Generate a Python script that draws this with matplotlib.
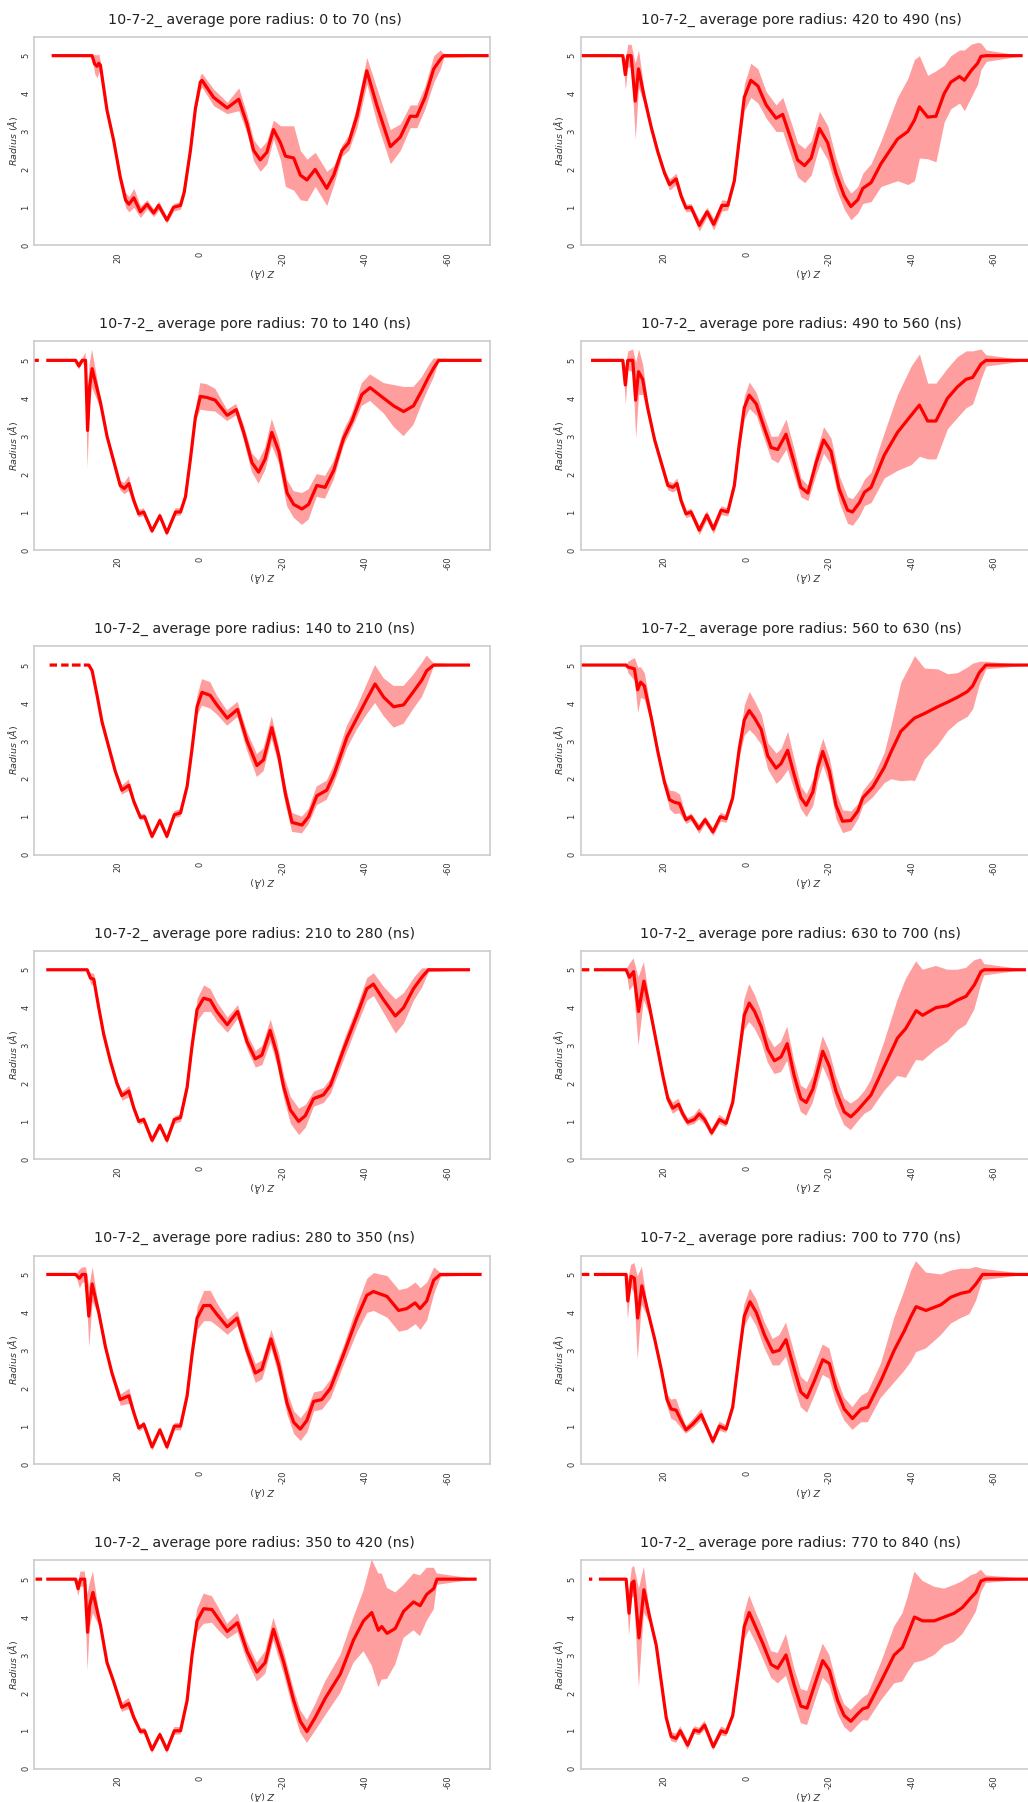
import numpy as np
import matplotlib
matplotlib.use("Agg")
import matplotlib.pyplot as plt

plt.rcParams["axes.unicode_minus"] = False
nan = float("nan")

# (z [Å], mean radius [Å], std [Å])
P_0_70 = [(36.0,5,0),(26.2,5,0),(25.6,4.78,0.25),(25.0,4.72,0.3),(24.6,4.8,0.25),(24.2,4.75,0.1),(22.6,3.56,0.06),(21.0,2.77,0.06),(19.4,1.8,0.1),(18.1,1.19,0.2),(17.3,1.08,0.2),(16.1,1.25,0.25),(14.5,0.88,0.15),(12.9,1.08,0.12),(11.3,0.85,0.1),(10.1,1.05,0.12),(8.1,0.66,0.08),(6.5,1.0,0.1),(4.8,1.05,0.1),(3.9,1.4,0.08),(2.4,2.5,0.08),(1.2,3.6,0.1),(0,4.3,0.2),(-0.4,4.35,0.18),(-3.2,3.9,0.22),(-6.5,3.62,0.15),(-9.3,3.85,0.3),(-11.3,3.2,0.25),(-12.9,2.5,0.28),(-14.5,2.25,0.3),(-16.1,2.45,0.3),(-17.7,3.05,0.25),(-19.4,2.7,0.45),(-20.6,2.35,0.8),(-22.6,2.3,0.85),(-24.2,1.85,0.65),(-25.8,1.72,0.55),(-27.8,2.0,0.45),(-30.6,1.5,0.45),(-32.3,1.85,0.25),(-34.3,2.5,0.15),(-35.9,2.7,0.2),(-37.9,3.4,0.3),(-40.3,4.6,0.35),(-42.7,3.7,0.45),(-46.0,2.6,0.45),(-48.4,2.85,0.35),(-50.8,3.4,0.3),(-52.4,3.4,0.3),(-54.4,3.9,0.3),(-56.5,4.65,0.35),(-58.1,4.9,0.25),(-58.9,5.0,0.05),(-69.8,5,0)]

P_70_140 = [(40.3,5,0),(39.1,5,0),(38.2,nan,0),(37.3,5,0),(30.2,5,0),(29.4,4.85,0.1),(28.6,5,0.05),(27.8,5,0.2),(27.3,3.15,1.0),(26.8,4.3,0.6),(26.2,4.78,0.5),(24.2,3.9,0.15),(22.6,3.0,0.1),(21.0,2.35,0.1),(19.4,1.7,0.12),(18.4,1.62,0.15),(17.3,1.75,0.2),(16.1,1.3,0.12),(14.9,0.95,0.1),(13.7,1.0,0.1),(11.7,0.5,0.08),(9.8,0.9,0.08),(8.1,0.45,0.08),(6.0,1.0,0.1),(4.8,1.0,0.1),(3.6,1.4,0.08),(2.4,2.4,0.08),(1.2,3.5,0.15),(0,4.05,0.35),(-1.6,4.02,0.35),(-3.6,3.95,0.3),(-6.5,3.55,0.15),(-8.7,3.7,0.15),(-10.5,3.1,0.2),(-12.5,2.3,0.25),(-14.1,2.05,0.3),(-15.7,2.4,0.3),(-17.3,3.1,0.35),(-19.0,2.6,0.3),(-21.0,1.5,0.35),(-22.6,1.2,0.35),(-24.6,1.08,0.42),(-26.2,1.2,0.4),(-28.2,1.7,0.3),(-30.2,1.65,0.3),(-32.3,2.1,0.25),(-34.7,2.95,0.2),(-36.7,3.4,0.2),(-39.1,4.1,0.3),(-41.1,4.28,0.35),(-44.4,4.0,0.4),(-46.8,3.8,0.55),(-49.2,3.65,0.65),(-51.6,3.8,0.5),(-53.6,4.2,0.35),(-55.2,4.55,0.3),(-56.5,4.8,0.25),(-57.7,5.0,0.05),(-68.1,5,0)]

P_140_210 = [(36.5,5,0),(34.7,5,0),(34.2,nan,0),(33.7,5,0),(31.9,5,0),(31.5,nan,0),(31.1,5,0),(29.0,5,0),(28.6,nan,0),(28.2,5,0),(27.0,5,0),(26.2,4.85,0.05),(25.0,4.2,0.05),(23.8,3.5,0.05),(22.2,2.85,0.06),(20.6,2.2,0.08),(19.0,1.7,0.12),(17.3,1.83,0.15),(16.1,1.4,0.1),(14.5,0.98,0.08),(13.5,1.0,0.08),(11.7,0.48,0.08),(9.8,0.9,0.08),(8.1,0.48,0.08),(6.3,1.05,0.1),(4.8,1.1,0.1),(3.2,1.8,0.1),(2.0,2.8,0.12),(0.8,3.9,0.25),(-0.4,4.28,0.35),(-2.4,4.2,0.35),(-4.0,3.95,0.25),(-6.5,3.6,0.2),(-9.0,3.83,0.2),(-11.3,3.0,0.25),(-13.7,2.35,0.3),(-15.3,2.5,0.3),(-17.3,3.35,0.3),(-19.0,2.6,0.25),(-20.6,1.6,0.25),(-22.2,0.85,0.25),(-24.6,0.78,0.22),(-26.2,1.0,0.2),(-28.2,1.55,0.25),(-30.6,1.7,0.25),(-32.3,2.1,0.25),(-35.5,3.1,0.3),(-37.9,3.6,0.3),(-40.3,4.1,0.4),(-42.3,4.5,0.5),(-44.4,4.15,0.5),(-46.8,3.9,0.55),(-49.2,3.95,0.5),(-51.6,4.3,0.45),(-53.6,4.6,0.45),(-54.8,4.85,0.4),(-56.5,5.0,0.05),(-65.3,5,0)]

P_210_280 = [(37.3,5,0),(27.4,5,0),(26.6,4.78,0.15),(25.8,4.75,0.15),(24.6,4.0,0.05),(23.4,3.3,0.05),(21.8,2.6,0.05),(20.2,2.0,0.08),(19.0,1.68,0.12),(17.3,1.8,0.15),(16.1,1.35,0.1),(14.9,1.0,0.08),(13.7,1.05,0.08),(11.7,0.5,0.08),(9.8,0.9,0.08),(8.1,0.5,0.08),(6.3,1.05,0.1),(4.8,1.1,0.1),(3.2,1.9,0.1),(2.0,3.0,0.12),(0.8,3.95,0.3),(-0.8,4.25,0.35),(-2.4,4.2,0.3),(-4.0,3.9,0.25),(-6.5,3.55,0.2),(-9.0,3.9,0.18),(-11.3,3.1,0.2),(-13.3,2.65,0.22),(-14.9,2.75,0.25),(-16.9,3.4,0.3),(-18.5,2.8,0.3),(-20.2,1.9,0.3),(-21.8,1.3,0.35),(-23.8,1.0,0.35),(-25.4,1.15,0.3),(-27.4,1.6,0.2),(-29.8,1.7,0.2),(-31.5,1.95,0.2),(-34.7,2.9,0.25),(-37.9,3.8,0.25),(-40.3,4.5,0.3),(-41.9,4.62,0.3),(-44.4,4.2,0.35),(-47.2,3.78,0.45),(-49.2,4.0,0.4),(-51.6,4.5,0.3),(-53.6,4.8,0.25),(-55.2,5.0,0.05),(-65.3,5,0)]

P_280_350 = [(37.3,5,0),(30.2,5,0),(29.3,4.9,0.25),(28.6,5,0.2),(27.8,5,0.2),(27.0,3.9,0.8),(26.2,4.75,0.45),(24.6,4.0,0.1),(23.0,3.1,0.08),(21.4,2.4,0.08),(19.4,1.7,0.15),(17.3,1.8,0.2),(16.1,1.35,0.1),(14.9,0.95,0.08),(13.7,1.05,0.08),(11.7,0.45,0.08),(9.8,0.9,0.08),(8.1,0.45,0.08),(6.3,1.0,0.1),(4.8,1.0,0.1),(3.2,1.8,0.1),(2.0,2.9,0.12),(0.8,3.85,0.3),(-0.8,4.18,0.4),(-2.4,4.18,0.4),(-4.0,3.95,0.3),(-6.5,3.62,0.2),(-8.9,3.85,0.2),(-11.3,3.0,0.22),(-13.3,2.4,0.25),(-14.9,2.5,0.25),(-17.1,3.3,0.25),(-19.0,2.6,0.3),(-21.0,1.6,0.3),(-22.6,1.1,0.3),(-24.2,0.92,0.3),(-25.8,1.15,0.3),(-27.4,1.65,0.25),(-29.4,1.7,0.25),(-31.5,2.0,0.25),(-34.7,2.9,0.25),(-37.9,3.85,0.35),(-40.3,4.45,0.45),(-41.9,4.55,0.5),(-45.2,4.42,0.55),(-48.0,4.05,0.55),(-50.0,4.1,0.55),(-52.0,4.25,0.55),(-53.2,4.1,0.55),(-54.8,4.3,0.5),(-56.5,4.85,0.35),(-58.1,5.0,0.05),(-68.1,5,0)]

P_350_420 = [(39.9,5,0),(38.3,5,0),(37.8,nan,0),(37.3,5,0),(30.2,5,0),(29.6,4.75,0.2),(29.0,5,0.2),(28.0,5,0.2),(27.3,3.6,1.0),(26.8,4.3,0.6),(26.0,4.65,0.55),(24.2,3.8,0.1),(22.6,2.8,0.08),(21.0,2.3,0.08),(19.0,1.62,0.12),(17.3,1.72,0.15),(16.1,1.35,0.1),(14.5,0.98,0.08),(13.5,1.0,0.08),(11.7,0.5,0.1),(9.8,0.9,0.08),(8.1,0.5,0.1),(6.3,1.0,0.1),(4.8,1.0,0.1),(3.2,1.8,0.1),(2.0,3.0,0.12),(0.8,3.9,0.3),(-0.8,4.22,0.4),(-2.8,4.2,0.35),(-4.4,3.95,0.3),(-6.5,3.62,0.2),(-9.0,3.85,0.25),(-11.3,3.1,0.25),(-13.7,2.55,0.25),(-15.7,2.8,0.3),(-17.7,3.68,0.3),(-20.2,2.8,0.3),(-22.6,1.8,0.3),(-24.2,1.25,0.3),(-25.8,0.98,0.3),(-27.8,1.35,0.35),(-30.2,1.85,0.45),(-33.9,2.5,0.5),(-37.1,3.4,0.6),(-39.5,3.9,0.8),(-41.5,4.12,1.4),(-43.1,3.65,1.5),(-43.9,3.75,1.4),(-45.2,3.57,1.2),(-47.2,3.7,0.95),(-49.2,4.15,0.7),(-51.6,4.4,0.75),(-53.2,4.3,0.8),(-54.8,4.6,0.7),(-56.5,4.75,0.55),(-57.3,5.0,0.15),(-66.9,5,0)]

P_420_490 = [(40.1,5,0),(30.0,5,0),(29.4,4.5,0.4),(28.8,5,0.3),(28.0,5,0.3),(27.0,3.8,1.0),(26.2,4.65,0.5),(24.8,3.9,0.15),(23.1,3.1,0.1),(21.5,2.45,0.1),(19.9,1.9,0.1),(18.7,1.6,0.15),(17.1,1.75,0.15),(15.9,1.3,0.12),(14.7,0.98,0.1),(13.5,1.0,0.1),(11.5,0.52,0.15),(9.6,0.88,0.12),(8.0,0.55,0.15),(6.0,1.05,0.15),(4.6,1.05,0.12),(3.0,1.7,0.1),(1.8,2.8,0.15),(0.6,3.9,0.35),(-1.0,4.35,0.45),(-2.7,4.2,0.45),(-4.7,3.7,0.35),(-7.1,3.35,0.35),(-8.7,3.45,0.45),(-10.7,2.8,0.45),(-12.3,2.25,0.45),(-14.0,2.1,0.45),(-15.6,2.3,0.45),(-17.6,3.08,0.45),(-19.6,2.7,0.45),(-21.6,1.9,0.4),(-23.6,1.3,0.35),(-25.2,1.02,0.35),(-26.9,1.2,0.35),(-28.1,1.5,0.4),(-30.1,1.65,0.5),(-32.5,2.15,0.6),(-36.5,2.8,1.1),(-39.0,3.0,1.4),(-40.6,3.3,1.6),(-41.8,3.65,1.35),(-43.8,3.38,1.1),(-45.8,3.4,1.2),(-47.8,4.0,0.75),(-49.4,4.3,0.7),(-51.5,4.45,0.7),(-52.7,4.35,0.8),(-54.3,4.6,0.7),(-55.9,4.8,0.55),(-56.7,4.98,0.35),(-58.0,5.0,0.15),(-66.8,5,0)]

P_490_560 = [(37.7,5,0),(30.0,5,0),(29.4,4.35,0.5),(28.8,5,0.25),(27.6,5,0.3),(26.9,3.95,1.0),(26.2,4.7,0.6),(25.2,4.5,0.4),(24.0,3.75,0.15),(22.3,2.9,0.1),(20.7,2.3,0.1),(19.1,1.7,0.12),(17.9,1.65,0.12),(16.9,1.75,0.15),(15.9,1.3,0.12),(14.7,0.95,0.1),(13.5,1.0,0.1),(11.5,0.52,0.12),(9.7,0.92,0.12),(8.1,0.55,0.12),(6.2,1.05,0.12),(4.6,1.0,0.1),(3.0,1.7,0.1),(1.8,2.8,0.15),(0.6,3.75,0.3),(-0.6,4.08,0.35),(-2.3,3.85,0.3),(-4.3,3.2,0.3),(-5.9,2.7,0.3),(-7.5,2.65,0.35),(-9.5,3.05,0.4),(-11.5,2.3,0.35),(-13.1,1.65,0.25),(-14.8,1.5,0.2),(-16.8,2.3,0.3),(-18.6,2.9,0.35),(-20.4,2.6,0.35),(-22.4,1.6,0.35),(-24.4,1.05,0.35),(-25.6,1.0,0.35),(-27.3,1.25,0.35),(-28.5,1.52,0.35),(-30.1,1.65,0.4),(-33.3,2.5,0.6),(-36.5,3.1,1.0),(-39.8,3.55,1.3),(-41.8,3.82,1.35),(-43.8,3.4,1.0),(-45.8,3.4,1.0),(-48.6,4.0,0.8),(-51.0,4.3,0.8),(-53.1,4.5,0.75),(-54.7,4.55,0.7),(-56.7,4.9,0.4),(-57.9,5.0,0.15),(-68.1,5,0)]

P_560_630 = [(40.1,5,0),(29.2,5,0),(28.8,4.95,0.15),(27.2,4.9,0.3),(26.4,4.35,0.6),(25.7,4.55,0.4),(24.8,4.45,0.35),(23.1,3.6,0.15),(21.5,2.7,0.12),(19.9,1.9,0.12),(18.7,1.45,0.25),(17.5,1.38,0.3),(16.3,1.35,0.25),(14.7,0.92,0.1),(13.5,1.0,0.1),(11.6,0.68,0.12),(10.1,0.92,0.1),(8.2,0.6,0.1),(6.4,1.0,0.12),(5.0,0.95,0.1),(3.4,1.5,0.1),(1.8,2.8,0.2),(0.6,3.55,0.4),(-0.6,3.8,0.5),(-1.9,3.6,0.45),(-3.5,3.3,0.4),(-5.1,2.6,0.35),(-7.1,2.28,0.4),(-8.3,2.4,0.4),(-9.9,2.75,0.5),(-11.5,2.1,0.4),(-13.1,1.5,0.3),(-14.4,1.3,0.3),(-16.0,1.65,0.35),(-17.2,2.3,0.35),(-18.4,2.72,0.35),(-20.0,2.2,0.35),(-21.6,1.3,0.35),(-23.2,0.88,0.3),(-25.2,0.9,0.25),(-26.9,1.15,0.2),(-28.1,1.5,0.2),(-30.5,1.78,0.25),(-33.3,2.3,0.4),(-34.9,2.7,0.7),(-37.3,3.25,1.3),(-39.8,3.52,1.55),(-40.6,3.6,1.65),(-43.0,3.72,1.2),(-46.2,3.9,1.0),(-48.6,4.02,0.75),(-51.0,4.15,0.65),(-53.4,4.3,0.65),(-54.7,4.45,0.6),(-56.3,4.8,0.3),(-57.9,5.0,0.1),(-68.1,5,0)]

P_630_700 = [(40.1,5,0),(38.1,5,0),(37.5,nan,0),(37.0,5,0),(29.2,5,0),(28.4,4.8,0.35),(27.4,4.95,0.35),(26.2,3.9,0.9),(24.9,4.7,0.5),(23.5,4.0,0.2),(21.9,3.1,0.1),(20.3,2.2,0.1),(19.1,1.6,0.12),(17.9,1.35,0.15),(16.5,1.45,0.15),(15.5,1.2,0.12),(14.3,0.98,0.1),(12.7,1.05,0.12),(11.5,1.2,0.15),(10.2,1.05,0.12),(8.5,0.7,0.1),(6.6,1.05,0.12),(5.0,0.95,0.1),(3.4,1.5,0.1),(1.8,2.8,0.2),(0.6,3.8,0.4),(-0.6,4.12,0.5),(-1.9,3.9,0.45),(-3.5,3.5,0.4),(-5.1,2.9,0.35),(-6.7,2.6,0.35),(-8.3,2.7,0.4),(-9.8,3.05,0.45),(-11.5,2.2,0.4),(-13.1,1.6,0.35),(-14.4,1.5,0.35),(-16.0,1.85,0.35),(-18.4,2.85,0.4),(-20.0,2.45,0.4),(-21.6,1.8,0.4),(-23.6,1.25,0.35),(-25.2,1.12,0.35),(-26.9,1.3,0.3),(-28.5,1.5,0.3),(-30.1,1.7,0.4),(-33.3,2.45,0.65),(-36.5,3.2,1.0),(-38.5,3.45,1.3),(-41.0,3.92,1.3),(-42.6,3.8,1.2),(-45.8,4.0,1.1),(-48.6,4.05,0.95),(-51.0,4.2,0.8),(-53.1,4.3,0.75),(-55.1,4.6,0.65),(-56.7,4.95,0.35),(-57.5,5.0,0.15),(-67.6,5,0)]

P_700_770 = [(40.1,5,0),(38.1,5,0),(37.5,nan,0),(37.0,5,0),(29.2,5,0),(28.8,4.3,0.5),(28.0,4.95,0.3),(27.2,4.9,0.4),(26.4,3.85,1.1),(25.4,4.7,0.5),(24.0,4.05,0.15),(22.3,3.3,0.1),(20.7,2.5,0.1),(19.3,1.7,0.15),(18.3,1.45,0.25),(17.1,1.42,0.3),(15.9,1.15,0.2),(14.7,0.9,0.1),(13.1,1.05,0.12),(11.0,1.3,0.15),(9.8,1.0,0.1),(8.2,0.6,0.1),(6.6,1.0,0.12),(5.0,0.92,0.1),(3.4,1.5,0.1),(1.8,2.9,0.2),(0.6,3.9,0.3),(-0.8,4.28,0.35),(-2.3,4.0,0.35),(-4.3,3.4,0.35),(-6.3,2.95,0.35),(-7.9,3.0,0.4),(-9.5,3.28,0.45),(-11.5,2.5,0.45),(-13.1,1.9,0.4),(-14.6,1.75,0.4),(-16.4,2.2,0.4),(-18.4,2.75,0.4),(-20.0,2.65,0.4),(-21.6,2.0,0.35),(-23.6,1.45,0.3),(-25.6,1.2,0.3),(-27.7,1.45,0.35),(-29.3,1.5,0.4),(-32.5,2.2,0.45),(-35.7,3.0,0.85),(-38.1,3.5,1.05),(-39.8,3.9,1.2),(-41.0,4.15,1.2),(-43.4,4.05,1.0),(-47.0,4.2,0.8),(-49.4,4.4,0.7),(-51.8,4.5,0.65),(-53.9,4.55,0.6),(-55.5,4.75,0.45),(-57.1,5.0,0.15),(-68.1,5,0)]

P_770_840 = [(38.2,5,0),(37.4,5,0),(36.8,nan,0),(35.8,5,0),(29.2,5,0),(28.5,4.1,0.6),(27.8,4.9,0.4),(27.3,4.95,0.4),(26.1,3.45,1.3),(24.9,4.72,0.6),(23.5,4.0,0.15),(21.9,3.25,0.1),(20.7,2.3,0.1),(19.5,1.35,0.12),(18.3,0.85,0.12),(17.1,0.8,0.12),(16.1,1.0,0.12),(14.3,0.62,0.12),(12.7,1.02,0.1),(11.5,0.98,0.1),(10.2,1.15,0.12),(8.1,0.58,0.1),(6.2,1.0,0.12),(5.0,0.95,0.1),(3.4,1.4,0.1),(1.8,2.7,0.2),(0.6,3.75,0.35),(-0.6,4.12,0.45),(-2.3,3.7,0.4),(-3.9,3.3,0.4),(-5.9,2.75,0.35),(-7.5,2.65,0.4),(-9.5,3.0,0.55),(-11.5,2.2,0.45),(-13.1,1.65,0.45),(-14.6,1.6,0.45),(-16.4,2.2,0.45),(-18.4,2.85,0.45),(-20.0,2.6,0.4),(-22.0,1.8,0.35),(-23.6,1.4,0.3),(-25.2,1.25,0.3),(-26.9,1.45,0.3),(-28.1,1.58,0.3),(-29.3,1.62,0.35),(-32.5,2.3,0.5),(-35.7,3.0,0.75),(-37.7,3.2,0.9),(-39.0,3.55,1.0),(-40.6,4.0,1.2),(-42.6,3.9,1.05),(-45.4,3.9,0.9),(-47.8,4.0,0.75),(-50.2,4.1,0.75),(-52.2,4.25,0.7),(-54.2,4.5,0.6),(-55.5,4.65,0.5),(-56.7,4.95,0.3),(-57.9,5.0,0.1),(-68.1,5,0)]

PANELS = [P_0_70, P_70_140, P_140_210, P_210_280, P_280_350, P_350_420,
          P_420_490, P_490_560, P_560_630, P_630_700, P_700_770, P_770_840]
START_NS = [0, 70, 140, 210, 280, 350, 420, 490, 560, 630, 700, 770]
END_NS = [70, 140, 210, 280, 350, 420, 490, 560, 630, 700, 770, 840]
X_TICKS = [20, 0, -20, -40, -60]
Y_TICKS = [0, 1, 2, 3, 4, 5]

W, H = 1028, 1802
fig = plt.figure(figsize=(W / 100, H / 100), dpi=100)

for i, data in enumerate(PANELS):
    col, row = divmod(i, 6)
    left_px = 34.3 if col == 0 else 580.7
    top_px = 36.7 + 304.7 * row
    ax = fig.add_axes([left_px / W, 1 - (top_px + 208.5) / H, 456 / W, 208.5 / H])
    z = np.array([d[0] for d in data], dtype=float)
    r = np.array([d[1] for d in data], dtype=float)
    e = np.array([d[2] for d in data], dtype=float)
    ax.fill_between(z, r - e, r + e, color="#ff9e9e", linewidth=0, zorder=1)
    ax.plot(z, r, color="red", lw=2.3, solid_capstyle="butt", zorder=2)
    ax.set_xlim(40.2, -70.2)
    ax.set_ylim(0, 5.5)
    ax.set_xticks(X_TICKS)
    ax.set_yticks(Y_TICKS)
    ax.tick_params(axis="both", labelsize=6, length=0, labelcolor="#333333")
    ax.tick_params(axis="x", pad=5)
    ax.tick_params(axis="y", pad=3)
    for lab in ax.get_xticklabels() + ax.get_yticklabels():
        lab.set_rotation(90)
    for lab in ax.get_yticklabels():
        lab.set_va("center")
    ax.set_title(f"10-7-2_ average pore radius: {START_NS[i]} to {END_NS[i]} (ns)",
                 fontsize=10.3, x=0.483, pad=9.5, color="#222222")
    ax.set_xlabel(r"$Z\ (\AA)$", fontsize=6.8, rotation=180, color="#333333", labelpad=0)
    ax.set_ylabel(r"$Radius\ (\AA)$", fontsize=6.8, color="#333333", labelpad=1)
    for sp in ax.spines.values():
        sp.set_color("#cccccc")
        sp.set_linewidth(1.2)

fig.savefig("out.png", dpi=100)
